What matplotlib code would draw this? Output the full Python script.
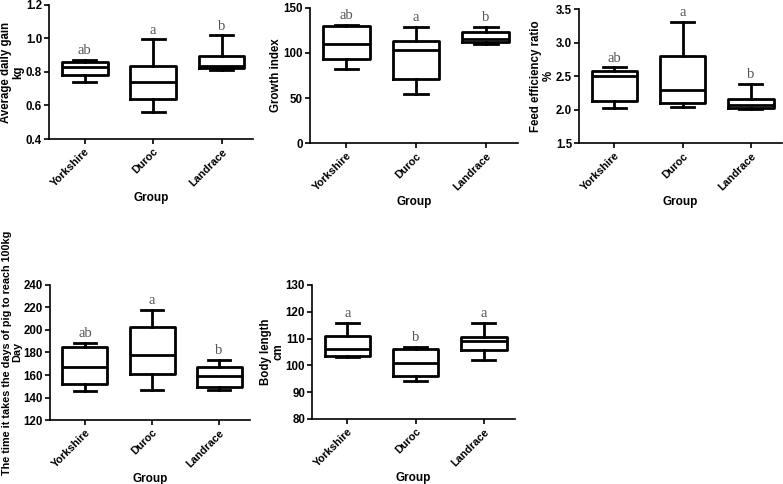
import matplotlib
matplotlib.use('Agg')
import matplotlib.pyplot as plt

plt.rcParams['font.family'] = ['Liberation Sans', 'DejaVu Sans']
plt.rcParams['font.weight'] = 'bold'

groups = ['Yorkshire', 'Duroc', 'Landrace']

# each row: whisker low, Q1, median, Q3, whisker high
adg = [[0.740, 0.782, 0.828, 0.862, 0.870],
       [0.563, 0.637, 0.742, 0.838, 0.995],
       [0.810, 0.824, 0.834, 0.895, 1.019]]
adg_letters = ['ab', 'a', 'b']

growth = [[82.6, 93.7, 110.4, 130.4, 130.9],
          [54.4, 71.1, 103.3, 113.3, 129.3],
          [110.0, 112.2, 116.0, 123.7, 129.3]]
growth_letters = ['ab', 'a', 'b']

fcr = [[2.022, 2.127, 2.495, 2.580, 2.629],
       [2.042, 2.092, 2.291, 2.800, 3.306],
       [2.010, 2.020, 2.070, 2.160, 2.380]]
fcr_letters = ['ab', 'a', 'b']

days = [[145.6, 151.6, 166.9, 184.5, 188.7],
        [146.9, 160.6, 177.9, 202.4, 218.2],
        [146.3, 149.6, 158.8, 167.5, 173.7]]
days_letters = ['ab', 'a', 'b']

length = [[103.0, 103.4, 106.2, 110.9, 116.0],
          [94.3, 96.0, 101.0, 106.0, 107.0],
          [102.0, 105.9, 109.0, 110.5, 116.0]]
length_letters = ['a', 'b', 'a']


def draw_panel(ax, data, letters, ylabel, ylim, yticks, yfmt, ylsize=8.3):
    stats = []
    for name, d in zip(groups, data):
        stats.append({'label': name, 'whislo': d[0], 'q1': d[1], 'med': d[2],
                      'q3': d[3], 'whishi': d[4]})
    lw = 2.0
    ax.bxp(stats, positions=[1, 2, 3], widths=0.67, showfliers=False,
           boxprops=dict(color='black', linewidth=lw),
           medianprops=dict(color='black', linewidth=lw),
           whiskerprops=dict(color='black', linewidth=lw),
           capprops=dict(color='black', linewidth=lw))
    for i, d in enumerate(data):
        ax.annotate(letters[i], xy=(i + 1, d[4]), xytext=(0, 2),
                    textcoords='offset points', ha='center', va='bottom',
                    family=['Liberation Serif', 'DejaVu Serif'],
                    fontweight='normal', fontsize=10.5, color='#555555')
    ax.set_xlim(0.48, 3.46)
    ax.set_ylim(*ylim)
    ax.set_yticks(yticks)
    ax.set_yticklabels([yfmt.format(v) for v in yticks], fontsize=8.3)
    ax.set_xticks([1, 2, 3])
    ax.set_xticklabels(groups, rotation=45, ha='right', rotation_mode='anchor',
                       fontsize=7.8)
    ax.spines['top'].set_visible(False)
    ax.spines['right'].set_visible(False)
    ax.spines['left'].set_linewidth(1.2)
    ax.spines['bottom'].set_linewidth(1.2)
    ax.tick_params(axis='both', width=1.2, length=3.5)
    ax.tick_params(axis='y', pad=1.5)
    ax.tick_params(axis='x', pad=2)
    ax.set_ylabel(ylabel, fontsize=ylsize, fontweight='bold', labelpad=1,
                  linespacing=1.05)
    ax.set_xlabel('Group', fontsize=8.5, fontweight='bold', labelpad=2)


fig = plt.figure(figsize=(7.83, 4.84), dpi=100)

ax1 = fig.add_axes([0.0626, 0.7128, 0.2605, 0.2769])
draw_panel(ax1, adg, adg_letters, 'Average daily gain\nkg',
           (0.4, 1.2), [0.4, 0.6, 0.8, 1.0, 1.2], '{:.1f}')

ax2 = fig.add_axes([0.3959, 0.7045, 0.2656, 0.2790])
draw_panel(ax2, growth, growth_letters, 'Growth index',
           (0, 150), [0, 50, 100, 150], '{:.0f}')

ax3 = fig.add_axes([0.7395, 0.7045, 0.2593, 0.2769])
draw_panel(ax3, fcr, fcr_letters, 'Feed efficiency ratio\n%',
           (1.5, 3.5), [1.5, 2.0, 2.5, 3.0, 3.5], '{:.1f}')

ax4 = fig.add_axes([0.0639, 0.1322, 0.2554, 0.2790])
draw_panel(ax4, days, days_letters,
           'The time it takes the days of pig to reach 100kg\nDay',
           (120, 240), [120, 140, 160, 180, 200, 220, 240], '{:.0f}',
           ylsize=7.8)

ax5 = fig.add_axes([0.3985, 0.1343, 0.2593, 0.2769])
draw_panel(ax5, length, length_letters, 'Body length\ncm',
           (80, 130), [80, 90, 100, 110, 120, 130], '{:.0f}')

fig.savefig('out.png', dpi=100)
